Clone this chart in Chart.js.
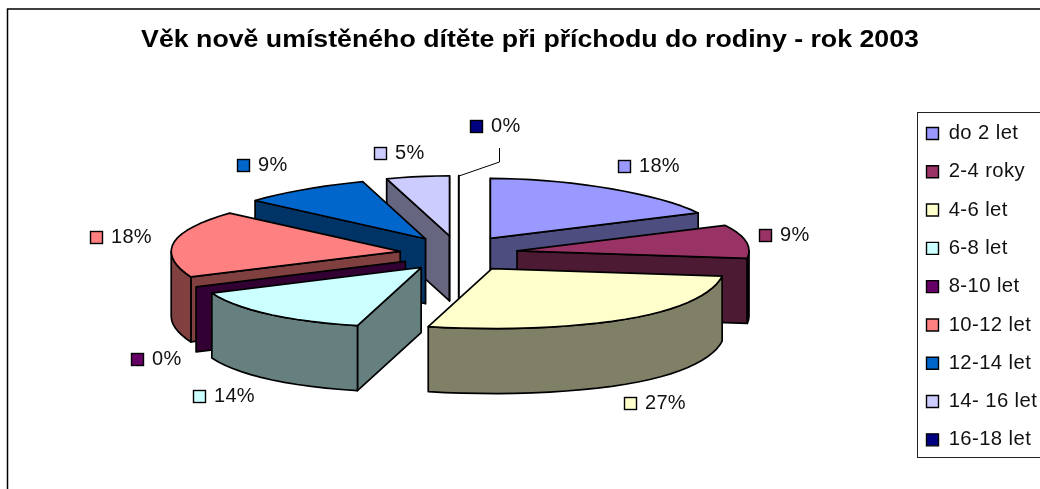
<!DOCTYPE html>
<html><head><meta charset="utf-8">
<style>html,body{margin:0;padding:0;background:#fff;overflow:hidden}canvas{display:block}</style>
<script src="https://cdn.jsdelivr.net/npm/chart.js@4"></script>
</head><body><canvas id="c" width="1040" height="489"></canvas>
<script>
const titleText = "Věk nově umístěného dítěte při příchodu do rodiny - rok 2003";
const categories = ["do 2 let","2-4 roky","4-6 let","6-8 let","8-10 let","10-12 let","12-14 let","14- 16 let","16-18 let"];
const values = [18,9,27,14,0,18,9,5,0];
const topColors = ["#9999FF","#993366","#FFFFCC","#CCFFFF","#660066","#FF8080","#0066CC","#CCCCFF","#000080"];
const sideColors = ["#4D4D80","#4D1A33","#808066","#668080","#330033","#804040","#003366","#666680","#000040"];
const labelAnchors = [[618,160],[759,229],[624,397],[193,390],[131,353],[90,231],[237,159],[374,147],[470,120]];
const FONT = '"Liberation Sans", Arial, sans-serif';

function wrapBoxes(chart){
  const t=chart.titleBlock, l=chart.legend, c=chart.ctx;
  const td=t.draw.bind(t), ld=l.draw.bind(l);
  t.draw=function(a){
    const mid=(t.left+t.right)/2;
    c.save(); c.translate(mid,0); c.scale(1.113,1); c.translate(-mid,0); td(a); c.restore();
  };
  l.draw=function(a){ c.letterSpacing='0.4px'; ld(a); c.letterSpacing='0px'; };
}
const pie3d = {
  id:'pie3d',
  beforeDraw(chart){
    if(!chart.$wrapped){ chart.$wrapped=true; wrapBoxes(chart); }
    const c=chart.ctx; c.save();
    c.fillStyle='#fff'; c.fillRect(0,0,chart.width,chart.height);
    c.strokeStyle='#000'; c.lineWidth=1.5;
    c.beginPath(); c.moveTo(7.5,489); c.lineTo(7.5,9); c.lineTo(1040,9); c.stroke();
    c.lineWidth=1; c.strokeStyle='#222';
    c.strokeRect(917.5,112.5,130,345);
    c.restore();
  },
  beforeDatasetDraw(chart,args,o){
    const c=chart.ctx, arcs=chart.getDatasetMeta(0).data;
    const slices=arcs.map((a,i)=>{
      const p=a.getProps(['x','y','startAngle','endAngle']);
      const t0=p.startAngle+Math.PI/2, t1=p.endAngle+Math.PI/2, m=(t0+t1)/2;
      const ax=p.x+o.dx+o.ex*Math.sin(m), ay=p.y+o.dy-o.ey*Math.cos(m);
      return {i,t0,t1,ax,ay};
    }).sort((a,b)=>a.ay-b.ay);
    const pt=(s,t)=>{
      const sn=Math.sin(t), cs=Math.cos(t), r=sn<0?o.rxLeft:o.rx;
      return [s.ax+r*sn*(1-o.persp*cs*cs*cs), s.ay-o.ry*cs];
    };
    const poly=(pts,fill)=>{
      c.beginPath(); pts.forEach((q,k)=>k?c.lineTo(q[0],q[1]):c.moveTo(q[0],q[1])); c.closePath();
      c.fillStyle=fill; c.fill(); c.stroke();
    };
    const arcPts=(s,a,b)=>{
      const r=[], n=Math.max(1,Math.ceil((b-a)/o.step));
      for(let k=0;k<=n;k++) r.push(pt(s,a+(b-a)*k/n));
      return r;
    };
    c.save(); c.strokeStyle='#000'; c.lineWidth=1.7; c.lineJoin='round';
    for(const s of slices){
      const side=sideColors[s.i], d=o.depth;
      const wall=(t)=>{const q=pt(s,t); poly([[s.ax,s.ay],q,[q[0],q[1]+d],[s.ax,s.ay+d]],side);};
      if(Math.sin(s.t0-1e-6)<0) wall(s.t0);
      if(Math.sin(s.t1)>0) wall(s.t1);
      const a=Math.max(s.t0,Math.PI/2), b=Math.min(s.t1,Math.PI*1.5);
      if(b>a){
        const up=arcPts(s,a,b), low=up.map(q=>[q[0],q[1]+d]).reverse();
        poly(up.concat(low),side);
      }
      if(s.t1>s.t0) poly([[s.ax,s.ay]].concat(arcPts(s,s.t0,s.t1)),topColors[s.i]);
    }
    c.restore();
    return false;
  },
  afterDatasetsDraw(chart){
    const c=chart.ctx; c.save();
    c.strokeStyle='#000'; c.lineWidth=1;
    c.beginPath(); c.moveTo(459,176); c.lineTo(499.5,162); c.lineTo(499.5,148); c.stroke();
    c.font='20px '+FONT; c.textBaseline='middle'; c.textAlign='left'; c.letterSpacing='0.3px';
    values.forEach((v,i)=>{
      const [x,y]=labelAnchors[i];
      c.fillStyle=topColors[i]; c.fillRect(x+.5,y+.5,12,12);
      c.strokeStyle='#000'; c.lineWidth=1.4; c.strokeRect(x+.5,y+.5,12,12);
      c.fillStyle='#111'; c.fillText(v+'%',x+21,y+6);
    });
    c.restore();
  }
};

new Chart(document.getElementById('c'),{
  type:'pie',
  data:{labels:categories,datasets:[{data:values,backgroundColor:topColors,borderColor:'#000',borderWidth:1.4}]},
  plugins:[pie3d],
  options:{
    responsive:false,animation:false,
    layout:{padding:{left:20,right:0,top:0,bottom:0}},
    plugins:{
      tooltip:{enabled:false},
      title:{display:true,text:titleText,color:'#000',align:'center',
        font:{family:FONT,size:24,weight:'bold',lineHeight:1.2},padding:{top:26,bottom:50.5}},
      legend:{position:'right',align:'start',maxWidth:131.5,fullSize:false,
        labels:{boxWidth:12,boxHeight:12,padding:18,color:'#111',font:{family:FONT,size:20.3}}},
      pie3d:{rx:232,rxLeft:229,ry:60,ex:59,ey:18,depth:65,dx:-5.5,dy:-43.5,step:0.07,persp:0.13}
    }
  }
});
</script></body></html>
